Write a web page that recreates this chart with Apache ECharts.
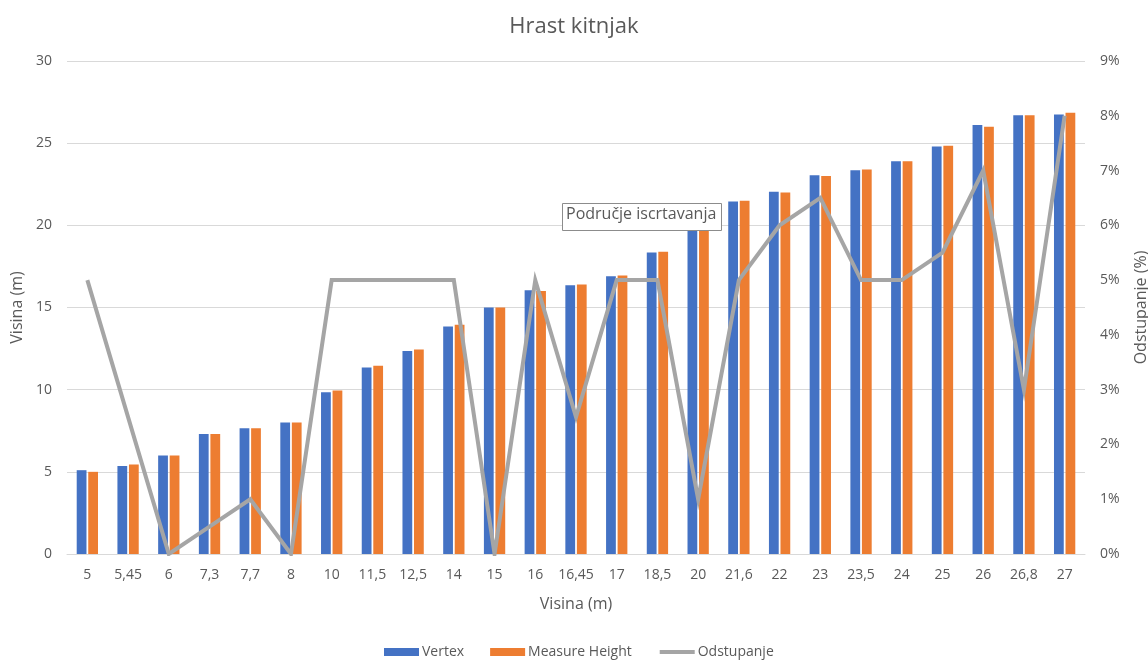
<!DOCTYPE html>
<html>
<head>
<meta charset="utf-8">
<script src="https://cdn.jsdelivr.net/npm/echarts@6/dist/echarts.min.js"></script>
<style>
html,body{margin:0;padding:0;background:#fff;}
#c{width:1148px;height:662px;}
</style>
</head>
<body>
<div id="c"></div>
<script>
const categories = ['5','5,45','6','7,3','7,7','8','10','11,5','12,5','14','15','16','16,45','17','18,5','20','21,6','22','23','23,5','24','25','26','26,8','27'];
const vertex = [5.1,5.35,6.0,7.3,7.65,8.0,9.85,11.35,12.35,13.85,15.0,16.05,16.35,16.9,18.35,19.9,21.45,22.05,23.05,23.35,23.9,24.8,26.1,26.7,26.75];
const measureHeight = [5.0,5.45,6.0,7.3,7.65,8.0,9.95,11.45,12.45,13.95,15.0,16.0,16.4,16.95,18.4,20.0,21.5,22.0,23.0,23.4,23.9,24.85,26.0,26.7,26.85];
const odstupanje = [5,2.5,0,0.5,1,0,5,5,5,5,0,5,2.5,5,5,1,5,6,6.5,5,5,5.5,7,3,8];
const leftTicks = {min:0, max:30, interval:5};
const rightTicks = {min:0, max:9, interval:1};

const FONT = '"Open Sans", "Noto Sans", sans-serif';
const TXT = '#595959';
const chart = echarts.init(document.getElementById('c'), null, {renderer:'canvas'});
chart.setOption({
  animation:false,
  backgroundColor:'#ffffff',
  textStyle:{fontFamily:FONT},
  title:{
    text:'Hrast kitnjak', left:'center', top:11,
    textStyle:{fontFamily:FONT, fontSize:22, fontWeight:'normal', color:TXT}
  },
  legend:{
    top:645, left:384, padding:[0,0],
    itemWidth:35, itemHeight:8, itemGap:26,
    textStyle:{fontFamily:FONT, fontSize:14, color:TXT, padding:[0,0,0,-2]},
    data:[
      {name:'Vertex', icon:'rect'},
      {name:'Measure Height', icon:'rect'},
      {name:'Odstupanje', itemStyle:{opacity:0}, lineStyle:{width:4, color:'#a5a5a5'}}
    ]
  },
  grid:{left:67, right:63, top:61, bottom:108, outerBoundsMode:'none', containLabel:false},
  xAxis:{
    type:'category', data:categories,
    name:'Visina (m)', nameLocation:'middle', nameGap:42,
    nameTextStyle:{fontFamily:FONT, fontSize:16, color:TXT},
    axisLine:{show:true, lineStyle:{color:'#d9d9d9', width:1}},
    axisTick:{show:false},
    axisLabel:{color:TXT, fontSize:14, margin:14, interval:0, fontFamily:FONT}
  },
  yAxis:[
    {
      type:'value', min:leftTicks.min, max:leftTicks.max, interval:leftTicks.interval,
      name:'Visina (m)', nameLocation:'middle', nameGap:37, nameRotate:90,
      nameTextStyle:{fontFamily:FONT, fontSize:16, color:TXT},
      axisLine:{show:false}, axisTick:{show:false},
      axisLabel:{color:TXT, fontSize:14, margin:15, fontFamily:FONT},
      splitLine:{lineStyle:{color:'#d9d9d9', width:1}}
    },
    {
      type:'value', min:rightTicks.min, max:rightTicks.max, interval:rightTicks.interval,
      name:'Odstupanje (%)', nameLocation:'middle', nameGap:48, nameRotate:90,
      nameTextStyle:{fontFamily:FONT, fontSize:16, color:TXT},
      axisLine:{show:false}, axisTick:{show:false},
      axisLabel:{color:TXT, fontSize:14, margin:15, fontFamily:FONT, formatter:'{value}%'},
      splitLine:{show:false}
    }
  ],
  series:[
    {name:'Vertex', type:'bar', data:vertex, yAxisIndex:0,
     barWidth:'24%', barGap:'18%', itemStyle:{color:'#4472c4'}},
    {name:'Measure Height', type:'bar', data:measureHeight, yAxisIndex:0,
     barWidth:'24%', barGap:'18%', itemStyle:{color:'#ed7d31'}},
    {name:'Odstupanje', type:'line', data:odstupanje, yAxisIndex:1,
     symbol:'none', lineStyle:{color:'#a5a5a5', width:4, join:'miter'},
     itemStyle:{color:'#a5a5a5'}, z:5}
  ],
  graphic:[
    {type:'rect', left:562, top:203, z:100,
     shape:{width:159, height:27},
     style:{fill:'#ffffff', stroke:'#8c8c8c', lineWidth:1}},
    {type:'text', left:566, top:206, z:101,
     style:{text:'Područje iscrtavanja', fontFamily:FONT, fontSize:16, fill:TXT}}
  ]
});
</script>
</body>
</html>
